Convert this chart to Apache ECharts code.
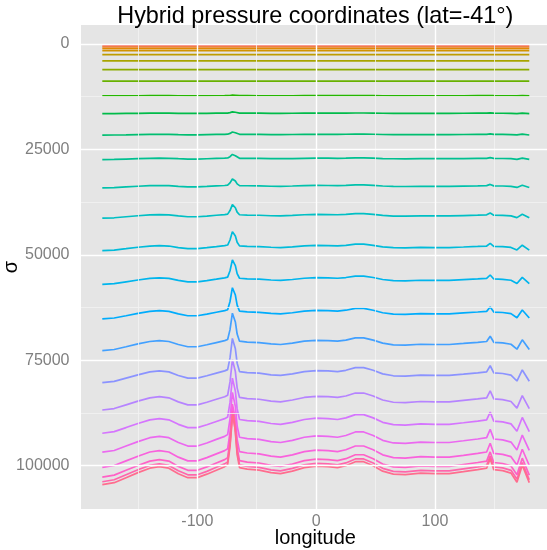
<!DOCTYPE html>
<html>
<head>
<meta charset="utf-8">
<script src="https://cdn.jsdelivr.net/npm/echarts@6/dist/echarts.min.js"></script>
<style>
html,body{margin:0;padding:0;background:#fff;}
#chart{width:547px;height:550px;}
</style>
</head>
<body>
<div id="chart"></div>
<script>
// ---- data ----
const lonGrid = [-180, -170, -160, -150, -140, -132, -124, -116, -108, -100, -92, -84, -77, -74.5, -72.5, -70.5, -69.5, -68, -66.5, -64.5, -58, -48, -38, -30, -20, -10, 0, 10, 18, 25, 33, 40, 48, 56, 65, 75, 88, 100, 112, 124, 136, 143.5, 146.5, 149.5, 157, 164, 169, 173.5, 179.4];
const lonFlat = [-180, 179.4];

const lev01 = [350, 350];
const lev02 = [700, 700];
const lev03 = [1100, 1100];
const lev04 = [1600, 1600];
const lev05 = [2500, 2500];
const lev06 = [4000, 4000];
const lev07 = [6100, 6100];
const lev08 = [8800, 8800];
const lev09 = [12300, 12300, 12280, 12270, 12260, 12260, 12260, 12270, 12280, 12280, 12280, 12270, 12260, 12250, 12210, 12140, 12130, 12180, 12230, 12260, 12260, 12270, 12270, 12270, 12270, 12260, 12260, 12260, 12260, 12260, 12250, 12250, 12260, 12270, 12280, 12280, 12270, 12270, 12270, 12270, 12260, 12260, 12240, 12260, 12270, 12270, 12290, 12250, 12300];
const lev10 = [16500, 16490, 16460, 16430, 16400, 16390, 16400, 16440, 16460, 16460, 16440, 16410, 16390, 16380, 16280, 16100, 16090, 16190, 16320, 16400, 16410, 16410, 16430, 16440, 16420, 16400, 16390, 16390, 16400, 16390, 16360, 16360, 16390, 16420, 16440, 16440, 16430, 16440, 16440, 16420, 16410, 16400, 16350, 16410, 16420, 16430, 16490, 16380, 16490];
const lev11 = [21600, 21580, 21530, 21470, 21420, 21410, 21420, 21480, 21530, 21530, 21490, 21450, 21410, 21390, 21200, 20880, 20850, 21050, 21280, 21420, 21440, 21450, 21470, 21480, 21460, 21420, 21400, 21410, 21420, 21400, 21360, 21360, 21400, 21460, 21490, 21490, 21480, 21480, 21480, 21460, 21440, 21420, 21320, 21440, 21450, 21480, 21570, 21390, 21580];
const lev12 = [27400, 27370, 27280, 27190, 27110, 27080, 27110, 27200, 27280, 27280, 27210, 27140, 27080, 27040, 26720, 26190, 26160, 26480, 26870, 27100, 27130, 27140, 27190, 27200, 27160, 27100, 27070, 27080, 27100, 27060, 26990, 26990, 27060, 27160, 27210, 27220, 27200, 27200, 27200, 27170, 27130, 27110, 26940, 27130, 27150, 27200, 27360, 27050, 27370];
const lev13 = [34100, 34040, 33880, 33730, 33590, 33550, 33590, 33760, 33880, 33880, 33780, 33650, 33550, 33480, 32930, 32000, 31940, 32500, 33180, 33580, 33620, 33650, 33730, 33760, 33680, 33580, 33530, 33550, 33580, 33520, 33390, 33390, 33520, 33680, 33780, 33790, 33750, 33760, 33760, 33700, 33640, 33590, 33300, 33640, 33670, 33750, 34020, 33500, 34040];
const lev14 = [41300, 41210, 40970, 40730, 40520, 40450, 40520, 40780, 40970, 40970, 40800, 40610, 40450, 40350, 39500, 38080, 37980, 38830, 39880, 40490, 40570, 40610, 40730, 40780, 40660, 40490, 40420, 40450, 40490, 40400, 40210, 40210, 40400, 40660, 40800, 40830, 40750, 40780, 40780, 40680, 40590, 40520, 40070, 40590, 40640, 40750, 41180, 40380, 41210];
const lev15 = [49000, 48870, 48540, 48200, 47910, 47800, 47910, 48270, 48540, 48540, 48300, 48040, 47800, 47670, 46480, 44490, 44350, 45550, 47010, 47870, 47970, 48040, 48200, 48270, 48100, 47870, 47770, 47800, 47870, 47740, 47470, 47470, 47740, 48100, 48300, 48340, 48240, 48270, 48270, 48140, 48000, 47910, 47280, 48000, 48070, 48240, 48840, 47710, 48870];
const lev16 = [57000, 56830, 56400, 55970, 55590, 55460, 55590, 56060, 56400, 56400, 56100, 55760, 55460, 55290, 53760, 51200, 51020, 52560, 54440, 55550, 55680, 55760, 55970, 56060, 55850, 55550, 55420, 55460, 55550, 55380, 55040, 55040, 55380, 55850, 56100, 56150, 56020, 56060, 56060, 55890, 55720, 55590, 54780, 55720, 55800, 56020, 56790, 55340, 56830];
const lev17 = [65200, 64980, 64440, 63890, 63400, 63240, 63400, 64000, 64440, 64440, 64060, 63620, 63240, 63020, 61060, 57790, 57560, 59530, 61930, 63350, 63510, 63620, 63890, 64000, 63730, 63350, 63180, 63240, 63350, 63130, 62690, 62690, 63130, 63730, 64060, 64110, 63940, 64000, 64000, 63780, 63560, 63400, 62370, 63560, 63670, 63940, 64930, 63080, 64980];
const lev18 = [72700, 72440, 71790, 71130, 70550, 70350, 70550, 71260, 71790, 71790, 71330, 70810, 70350, 70090, 67740, 63830, 63570, 65920, 68790, 70480, 70680, 70810, 71130, 71260, 70940, 70480, 70290, 70350, 70480, 70230, 69700, 69700, 70230, 70940, 71330, 71400, 71200, 71260, 71260, 71010, 70740, 70550, 69310, 70740, 70870, 71200, 72380, 70160, 72440];
const lev19 = [80300, 79990, 79220, 78450, 77760, 77520, 77760, 78600, 79220, 79220, 78680, 78060, 77520, 77220, 74440, 69820, 69510, 72290, 75680, 77680, 77910, 78060, 78450, 78600, 78220, 77680, 77450, 77520, 77680, 77380, 76760, 76760, 77380, 78220, 78680, 78760, 78530, 78600, 78600, 78300, 77990, 77760, 76300, 77990, 78140, 78530, 79920, 77300, 79990];
const lev20 = [86800, 86450, 85570, 84690, 83910, 83640, 83910, 84870, 85570, 85570, 84960, 84250, 83640, 83290, 80130, 74870, 74520, 77680, 81540, 83820, 84080, 84250, 84690, 84870, 84430, 83820, 83550, 83640, 83820, 83470, 82770, 82770, 83470, 84430, 84960, 85050, 84780, 84870, 84870, 84520, 84170, 83910, 82240, 84170, 84340, 84780, 86360, 83380, 86450];
const lev21 = [92300, 91920, 90960, 89990, 89130, 88840, 89130, 90190, 90960, 90960, 90280, 89510, 88840, 88460, 85000, 79240, 78850, 82310, 86540, 89040, 89330, 89510, 89990, 90190, 89710, 89040, 88740, 88840, 89040, 88660, 87890, 87890, 88660, 89710, 90280, 90380, 90090, 90190, 90190, 89810, 89420, 89130, 87310, 89420, 89610, 90090, 91820, 88560, 91920];
const lev22 = [96800, 96390, 95340, 94290, 93360, 93040, 93360, 94500, 95340, 95340, 94610, 93770, 93040, 92630, 88870, 82610, 82190, 85950, 90540, 93250, 93570, 93770, 94290, 94500, 93980, 93250, 92940, 93040, 93250, 92840, 92000, 92000, 92840, 93980, 94610, 94710, 94400, 94500, 94500, 94090, 93670, 93360, 91380, 93670, 93880, 94400, 96280, 92730, 96390];
const lev23 = [100400, 99960, 98860, 97750, 96760, 96430, 96760, 97970, 98860, 98860, 98080, 97200, 96430, 95990, 92020, 85410, 84960, 88930, 93790, 96650, 96990, 97200, 97750, 97970, 97420, 96650, 96320, 96430, 96650, 96220, 95330, 95330, 96220, 97420, 98080, 98200, 97860, 97970, 97970, 97540, 97090, 96760, 94670, 97090, 97310, 97860, 99850, 96100, 99960];
const lev24 = [102700, 102240, 101090, 99940, 98910, 98560, 98910, 100170, 101090, 101090, 100290, 99360, 98560, 98100, 93960, 87060, 86600, 90740, 95800, 98790, 99140, 99360, 99940, 100170, 99600, 98790, 98440, 98560, 98790, 98340, 97410, 97410, 98340, 99600, 100290, 100400, 100050, 100170, 100170, 99710, 99250, 98910, 96730, 99250, 99480, 100050, 102130, 98220, 102240];
const lev25 = [103800, 103340, 102160, 100980, 99930, 99570, 99930, 101220, 102160, 102160, 101340, 100390, 99570, 99110, 94880, 87840, 87370, 91590, 96760, 99810, 100170, 100390, 100980, 101220, 100630, 99810, 99450, 99570, 99810, 99350, 98400, 98400, 99350, 100630, 101340, 101450, 101100, 101220, 101220, 100750, 100280, 99930, 97700, 100280, 100510, 101100, 103220, 99230, 103340];
const lev26 = [104500, 104030, 102840, 101650, 100590, 100230, 100590, 101890, 102840, 102840, 102010, 101060, 100230, 99760, 95490, 88380, 87900, 92170, 97390, 100470, 100830, 101060, 101650, 101890, 101300, 100470, 100110, 100230, 100470, 100000, 99050, 99050, 100000, 101300, 102010, 102130, 101770, 101890, 101890, 101420, 100940, 100590, 98340, 100940, 101180, 101770, 103910, 99880, 104030];

const xTicks = [-100, 0, 100];
const xMinor = [-150, -50, 50, 150];
const yTicks = [0, 25000, 50000, 75000, 100000];
const yMinor = [12500, 37500, 62500, 87500];

const levels = [lev01, lev02, lev03, lev04, lev05, lev06, lev07, lev08, lev09, lev10, lev11, lev12, lev13,
  lev14, lev15, lev16, lev17, lev18, lev19, lev20, lev21, lev22, lev23, lev24, lev25, lev26];

// ---- ggplot-like hue palette (HCL, c=100, l=65) ----
function hcl(h, c, l) {
  const d = Math.PI / 180;
  const U = c * Math.cos(h * d), V = c * Math.sin(h * d);
  const WX = 95.047, WY = 100, WZ = 108.883;
  const den = WX + 15 * WY + 3 * WZ;
  const un = 4 * WX / den, vn = 9 * WY / den;
  const Y = l > 7.999592 ? WY * Math.pow((l + 16) / 116, 3) : WY * l / 903.3;
  const u = U / (13 * l) + un, v = V / (13 * l) + vn;
  const X = 9 * Y * u / (4 * v);
  const Z = -X / 3 - 5 * Y + 3 * Y / v;
  const g = t => {
    t = t > 0.00304 ? 1.055 * Math.pow(t, 1 / 2.4) - 0.055 : 12.92 * t;
    return Math.round(255 * Math.min(1, Math.max(0, t)));
  };
  const r = g((3.240479 * X - 1.537150 * Y - 0.498535 * Z) / WY);
  const gg = g((-0.969256 * X + 1.875992 * Y + 0.041556 * Z) / WY);
  const b = g((0.055648 * X - 0.204043 * Y + 1.057311 * Z) / WY);
  return 'rgb(' + r + ',' + gg + ',' + b + ')';
}
const n = levels.length;
const colors = levels.map((_, i) => hcl(15 + i * 360 / n, 100, 65));

const FONT = 'Liberation Sans, Arial, Helvetica, sans-serif';

const gridLines = [];
xMinor.forEach(v => gridLines.push({ xAxis: v, lineStyle: { color: '#F2F2F2', width: 0.8, type: 'solid' } }));
yMinor.forEach(v => gridLines.push({ yAxis: v, lineStyle: { color: '#F2F2F2', width: 0.8, type: 'solid' } }));
xTicks.forEach(v => gridLines.push({ xAxis: v, lineStyle: { color: '#FFFFFF', width: 1.4, type: 'solid' } }));
yTicks.forEach(v => gridLines.push({ yAxis: v, lineStyle: { color: '#FFFFFF', width: 1.4, type: 'solid' } }));

const series = [{
  type: 'line', data: [], z: 1, silent: true, symbol: 'none',
  markLine: { silent: true, symbol: ['none', 'none'], label: { show: false }, animation: false, data: gridLines }
}];
levels.forEach((vals, i) => {
  const xs = vals.length === lonGrid.length ? lonGrid : lonFlat;
  series.push({
    type: 'line', z: 2, symbol: 'none', showSymbol: false, silent: true,
    data: vals.map((v, j) => [xs[j], v]),
    lineStyle: { color: colors[i], width: 1.7 },
    itemStyle: { color: colors[i] }
  });
});

const chart = echarts.init(document.getElementById('chart'), null, { renderer: 'canvas' });
chart.setOption({
  animation: false,
  backgroundColor: '#FFFFFF',
  title: {
    text: 'Hybrid pressure coordinates (lat=-41°)',
    left: 315.3, top: 5.5, padding: 0, textAlign: 'center',
    textStyle: { fontFamily: FONT, fontSize: 23.4, fontWeight: 'normal', color: '#000000' }
  },
  grid: {
    left: 81, top: 25, width: 468.6, height: 484,
    show: true, backgroundColor: '#E5E5E5', borderWidth: 0,
    containLabel: false, outerBoundsMode: 'none'
  },
  xAxis: {
    type: 'value', min: -197.93, max: 196.5,
    name: 'longitude', nameLocation: 'middle', nameGap: 19, nameMoveOverlap: false,
    nameTextStyle: { fontFamily: FONT, fontSize: 20, color: '#000000' },
    axisLine: { show: false },
    axisTick: { show: true, customValues: xTicks, length: 4, lineStyle: { color: '#7F7F7F', width: 1 } },
    axisLabel: { customValues: xTicks, margin: 5, fontFamily: FONT, fontSize: 16, color: '#7F7F7F' },
    splitLine: { show: false }
  },
  yAxis: {
    type: 'value', inverse: true, min: -4505, max: 110270,
    name: 'σ', nameLocation: 'middle', nameGap: 60, nameRotate: 90, nameMoveOverlap: false,
    nameTextStyle: { fontFamily: FONT, fontSize: 20, color: '#000000' },
    axisLine: { show: false },
    axisTick: { show: true, customValues: yTicks, length: 4, lineStyle: { color: '#7F7F7F', width: 1 } },
    axisLabel: { customValues: yTicks, margin: 11.5, fontFamily: FONT, fontSize: 16, color: '#7F7F7F',
      formatter: v => String(v) },
    splitLine: { show: false }
  },
  series: series
});
</script>
</body>
</html>
